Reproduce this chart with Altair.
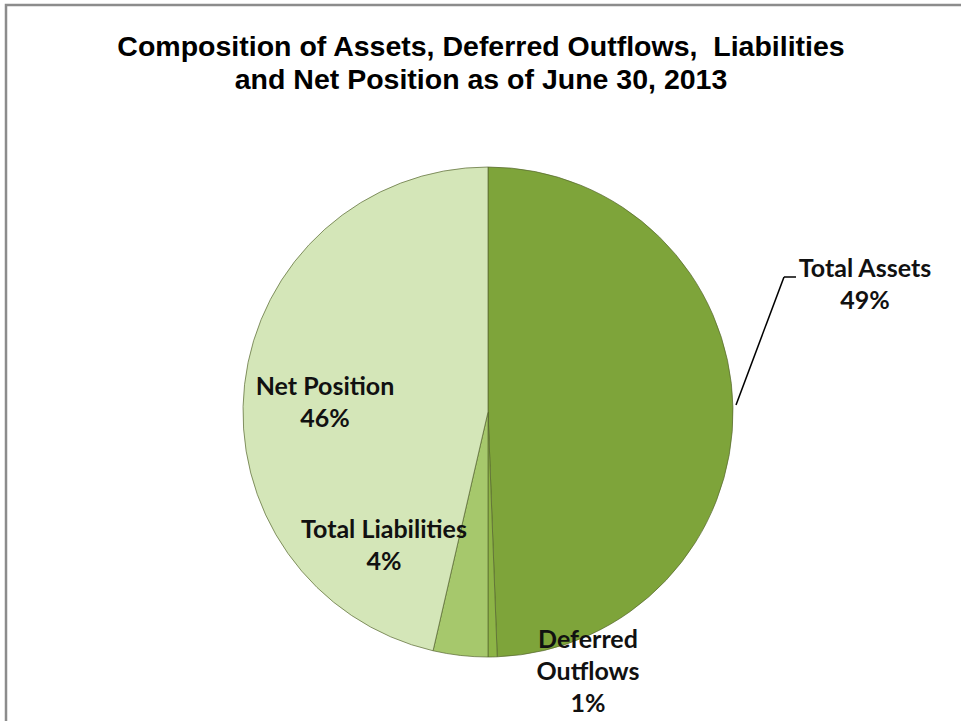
import altair as alt
import pandas as pd

# ---- data ----
categories = ["Total Assets", "Deferred Outflows", "Total Liabilities", "Net Position"]
shares = [49.4, 0.6, 3.6, 46.4]
label_lines = [["Total Assets"], ["Deferred", "Outflows"], ["Total Liabilities"], ["Net Position"]]
title_lines = ["Composition of Assets, Deferred Outflows,\u00a0 Liabilities",
               "and Net Position as of June 30, 2013"]

# ---- styles ----
colors = ["#7ea43a", "#8db446", "#a6c86c", "#d4e6b8"]
center = (488, 412)
radius = 245
label_pos = {  # centre of the first line of each data label
    "Total Assets": (865, 269),
    "Deferred Outflows": (588, 640),
    "Total Liabilities": (384, 530),
    "Net Position": (325, 387),
}

rows = []
for i, (c, v, ll) in enumerate(zip(categories, shares, label_lines)):
    rows.append({"category": c, "share": v, "idx": i,
                 "label": ll + [f"{round(v)}%"]})
df = pd.DataFrame(rows)
one = pd.DataFrame({"a": [0]})

border = alt.Chart(one).mark_rect(fill="white", stroke="#8c8c8c", strokeWidth=2.5).encode(
    x=alt.value(6), y=alt.value(5), x2=alt.value(1200), y2=alt.value(1000))

pie = alt.Chart(df).mark_arc(outerRadius=radius, stroke="#56662f", strokeWidth=0.7).encode(
    theta=alt.Theta("share:Q", stack=True),
    order=alt.Order("idx:Q"),
    color=alt.Color("category:N", scale=alt.Scale(domain=categories, range=colors), legend=None),
    x=alt.value(center[0]), y=alt.value(center[1]),
)

labels = []
for c in categories:
    px, py = label_pos[c]
    labels.append(
        alt.Chart(df).transform_filter(alt.datum.category == c).mark_text(
            font="Lato", fontWeight="bold", fontSize=25, lineHeight=32,
            align="center", baseline="middle", color="#111111"
        ).encode(text="label", x=alt.value(px), y=alt.value(py))
    )

title_marks = []
for i, t in enumerate(title_lines):
    title_marks.append(
        alt.Chart(one).mark_text(
            text=t, font="Liberation Sans", fontWeight="bold", fontSize=28.5,
            align="center", baseline="middle", color="#000000"
        ).encode(x=alt.value(481), y=alt.value(47 + 33 * i))
    )

leader1 = alt.Chart(one).mark_rule(color="#000000", strokeWidth=1.5).encode(
    x=alt.value(736), y=alt.value(405), x2=alt.value(784), y2=alt.value(277))
leader2 = alt.Chart(one).mark_rule(color="#000000", strokeWidth=1.5).encode(
    x=alt.value(784), y=alt.value(277), x2=alt.value(796), y2=alt.value(277))

chart = alt.layer(border, pie, leader1, leader2, *labels, *title_marks).properties(
    width=961, height=721, autosize="none", padding=0
).configure_view(stroke=None)

chart.save("out.html", embed_options={"renderer": "svg", "actions": False})
